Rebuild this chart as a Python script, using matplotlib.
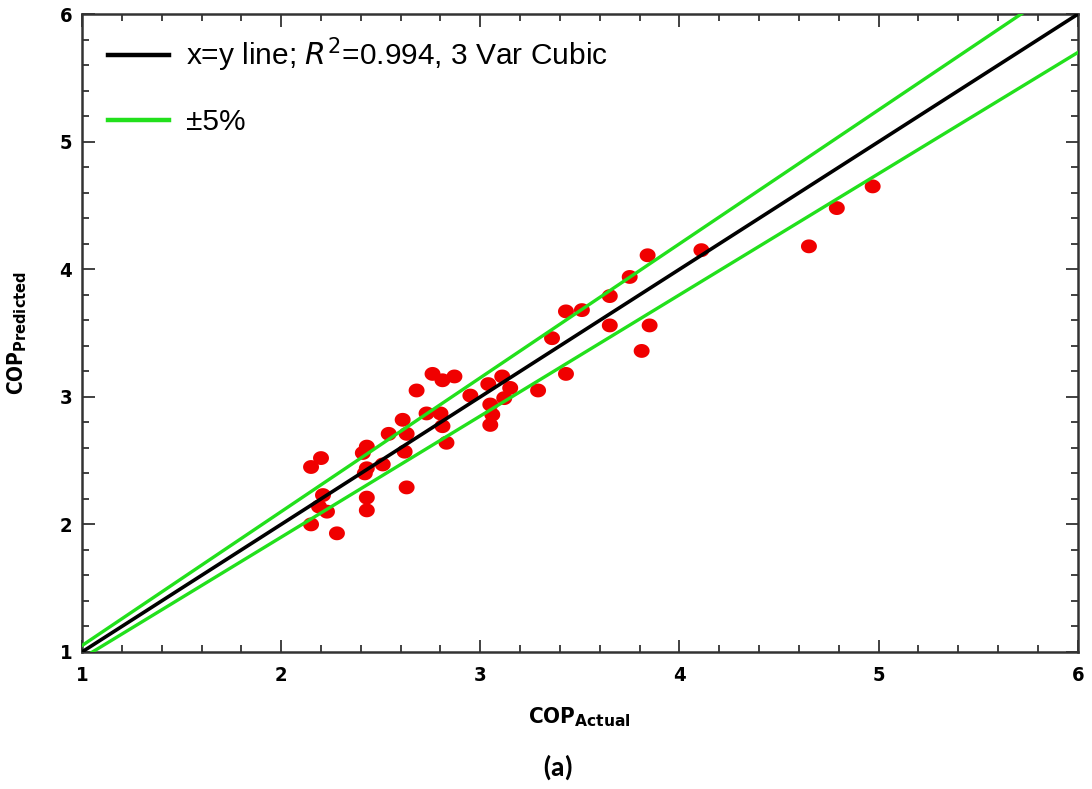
import matplotlib.pyplot as plt
import numpy as np
from matplotlib.ticker import MultipleLocator
from matplotlib import font_manager

# actual vs predicted COP
cop_actual = [4.97, 4.79, 4.65, 4.11, 3.84, 3.75, 3.65, 3.65, 3.85, 3.81,
              3.43, 3.51, 3.36, 3.43, 3.29, 2.76, 2.81, 2.87, 2.68, 2.95,
              3.04, 3.11, 3.15, 3.12, 3.05, 3.06, 3.05, 2.73, 2.80, 2.81,
              2.83, 2.61, 2.63, 2.54, 2.43, 2.41, 2.62, 2.51, 2.43, 2.42,
              2.20, 2.15, 2.21, 2.19, 2.23, 2.15, 2.28, 2.43, 2.43, 2.63]
cop_predicted = [4.65, 4.48, 4.18, 4.15, 4.11, 3.94, 3.79, 3.56, 3.56, 3.36,
                 3.67, 3.68, 3.46, 3.18, 3.05, 3.18, 3.13, 3.16, 3.05, 3.01,
                 3.10, 3.16, 3.07, 2.99, 2.94, 2.86, 2.78, 2.87, 2.87, 2.77,
                 2.64, 2.82, 2.71, 2.71, 2.61, 2.56, 2.57, 2.47, 2.44, 2.40,
                 2.52, 2.45, 2.23, 2.14, 2.10, 2.00, 1.93, 2.21, 2.11, 2.29]

band = 0.05
line_x = np.array([1, 6])

# slightly wide dots, like in the source figure
t = np.linspace(0, 2 * np.pi, 40)
oval = np.column_stack([np.cos(t) * 1.15, np.sin(t)])

names = {f.name for f in font_manager.fontManager.ttflist}
narrow = ['DejaVu Sans']
stretch = 'condensed'
if 'Liberation Sans Narrow' in names:
    narrow = ['Liberation Sans Narrow', 'DejaVu Sans']
    stretch = 'normal'

fig = plt.figure(figsize=(10.92, 7.89), dpi=100)
ax = fig.add_axes([0.0751, 0.1737, 0.9119, 0.8083])

ax.plot(line_x, line_x, color='black', lw=2.6, label='x=y line; $R^2$=0.994, 3 Var Cubic', zorder=3)
ax.plot(line_x, line_x * (1 + band), color='#22e01c', lw=2.4, label='±5%', zorder=3)
ax.plot(line_x, line_x * (1 - band), color='#22e01c', lw=2.4, zorder=3)
ax.scatter(cop_actual, cop_predicted, s=132, marker=oval, color='#f00000', edgecolors='none', zorder=2)

ax.set_xlim(1, 6)
ax.set_ylim(1, 6)
ax.xaxis.set_major_locator(MultipleLocator(1))
ax.yaxis.set_major_locator(MultipleLocator(1))
ax.xaxis.set_minor_locator(MultipleLocator(0.2))
ax.yaxis.set_minor_locator(MultipleLocator(0.2))
ax.tick_params(which='both', direction='in', top=True, right=True, width=1.3, color='#333333')
ax.tick_params(which='major', length=9)
ax.tick_params(which='minor', length=5)
ax.tick_params(axis='x', pad=10)
ax.tick_params(axis='y', pad=7)
for sp in ax.spines.values():
    sp.set_linewidth(1.8)
    sp.set_color('#333333')

for lab in ax.get_xticklabels() + ax.get_yticklabels():
    lab.set_family(narrow)
    lab.set_fontstretch(stretch)
    lab.set_fontweight('bold')
    lab.set_fontsize(14.5)

ax.set_xlabel('COP$_{\\mathbf{Actual}}$', family=narrow, fontstretch=stretch,
              fontweight='bold', fontsize=16, labelpad=15)
ax.set_ylabel('COP$_{\\mathbf{Predicted}}$', family=narrow, fontstretch=stretch,
              fontweight='bold', fontsize=15, labelpad=22)

leg = ax.legend(loc='upper left', bbox_to_anchor=(0.026, 0.967), frameon=False,
                handlelength=2.05, labelspacing=1.15, borderaxespad=0.0, borderpad=0.0,
                handletextpad=0.55,
                prop={'family': ['Liberation Sans', 'DejaVu Sans'], 'size': 21.5})
for h in leg.legend_handles:
    h.set_linewidth(3.2)

fig.text(0.511, 0.027, '(a)', ha='center', va='center', fontsize=20, fontweight='bold',
         family=['Carlito', 'Liberation Sans Narrow', 'DejaVu Sans'])

fig.savefig('out.png', dpi=100)
